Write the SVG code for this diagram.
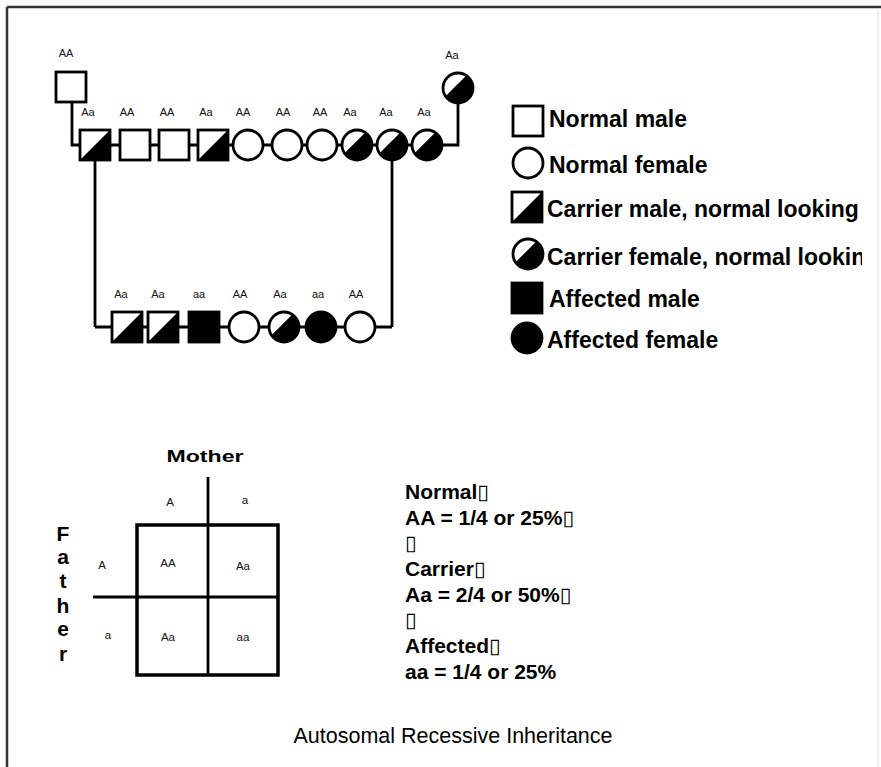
<svg xmlns="http://www.w3.org/2000/svg" xmlns:xlink="http://www.w3.org/1999/xlink" width="881" height="767" viewBox="0 0 881 767">
<style>
.ln{stroke:#000;stroke-width:2.8;fill:none}
.sh{stroke:#000;stroke-width:2.8}
.lbl{font-family:"Liberation Sans",Arial,sans-serif;font-size:11px;fill:#111;text-anchor:middle}
.leg{font-family:"Liberation Sans",Arial,sans-serif;font-size:23px;font-weight:bold;fill:#000}
.pt{font-family:"Liberation Sans",Arial,sans-serif;font-size:11.5px;fill:#111;text-anchor:middle}
.fa{font-family:"Liberation Sans",Arial,sans-serif;font-size:21px;font-weight:bold;fill:#000;text-anchor:middle}
.rt{font-family:"Liberation Sans",Arial,sans-serif;font-size:21px;font-weight:bold;fill:#000}
.bx{font-family:"DejaVu Sans",sans-serif;font-size:21px;font-weight:normal}
.cap{font-family:"Liberation Sans",Arial,sans-serif;font-size:21.5px;fill:#000;text-anchor:middle}
</style>
<defs>
<g id="nm"><rect x="-15" y="-15" width="30" height="30" fill="#fff" class="sh"/></g>
<g id="nf"><circle r="15" fill="#fff" class="sh"/></g>
<g id="cm"><rect x="-15" y="-15" width="30" height="30" fill="#fff"/><polygon points="-15,15 15,-15 15,15" fill="#000"/><rect x="-15" y="-15" width="30" height="30" fill="none" class="sh"/></g>
<g id="cf"><circle r="15" fill="#000"/><path d="M8.3,-12.5 A15,15 0 0 0 -12.5,8.3 Z" fill="#fff"/><circle r="15" fill="none" class="sh"/></g>
<g id="am"><rect x="-15" y="-15" width="30" height="30" fill="#000" class="sh"/></g>
<g id="af"><circle r="15" fill="#000" class="sh"/></g>
<clipPath id="clipL"><rect x="500" y="230" width="362" height="50"/></clipPath>
</defs>
<rect width="881" height="767" fill="#fff"/>
<g id="frame">
<line x1="7" y1="7" x2="881" y2="7" stroke="#333" stroke-width="2.5"/>
<line x1="7" y1="7" x2="7" y2="767" stroke="#333" stroke-width="2.5"/>
<line x1="878" y1="10" x2="878" y2="767" stroke="#ddd" stroke-width="1"/>
</g>
<g id="connectors">
<polyline class="ln" points="72,102 72,145 458,145 458,102"/>
<line class="ln" x1="95" y1="160" x2="95" y2="327"/>
<line class="ln" x1="392" y1="160" x2="392" y2="327"/>
<line class="ln" x1="95" y1="327" x2="392" y2="327"/>
</g>
<g id="gen1">
<g id="p-grandfather"><use xlink:href="#nm" transform="translate(71,87)"/><text class="lbl" x="66" y="57">AA</text></g>
<g id="p-grandmother"><use xlink:href="#cf" transform="translate(458,88)"/><text class="lbl" x="452" y="59">Aa</text></g>
</g>
<g id="gen2">
<g id="g2-1"><use xlink:href="#cm" transform="translate(95,145)"/><text class="lbl" x="88" y="116">Aa</text></g>
<g id="g2-2"><use xlink:href="#nm" transform="translate(135,145)"/><text class="lbl" x="127" y="116">AA</text></g>
<g id="g2-3"><use xlink:href="#nm" transform="translate(174,145)"/><text class="lbl" x="167" y="116">AA</text></g>
<g id="g2-4"><use xlink:href="#cm" transform="translate(213,145)"/><text class="lbl" x="206" y="116">Aa</text></g>
<g id="g2-5"><use xlink:href="#nf" transform="translate(248,145)"/><text class="lbl" x="243" y="116">AA</text></g>
<g id="g2-6"><use xlink:href="#nf" transform="translate(287,145)"/><text class="lbl" x="283" y="116">AA</text></g>
<g id="g2-7"><use xlink:href="#nf" transform="translate(322,145)"/><text class="lbl" x="320" y="116">AA</text></g>
<g id="g2-8"><use xlink:href="#cf" transform="translate(357,145)"/><text class="lbl" x="350" y="116">Aa</text></g>
<g id="g2-9"><use xlink:href="#cf" transform="translate(392,145)"/><text class="lbl" x="386" y="116">Aa</text></g>
<g id="g2-10"><use xlink:href="#cf" transform="translate(427,145)"/><text class="lbl" x="424" y="116">Aa</text></g>
</g>
<g id="gen3">
<g id="g3-1"><use xlink:href="#cm" transform="translate(127,327)"/><text class="lbl" x="121" y="298">Aa</text></g>
<g id="g3-2"><use xlink:href="#cm" transform="translate(163,327)"/><text class="lbl" x="158" y="298">Aa</text></g>
<g id="g3-3"><use xlink:href="#am" transform="translate(204,327)"/><text class="lbl" x="199" y="298">aa</text></g>
<g id="g3-4"><use xlink:href="#nf" transform="translate(244,327)"/><text class="lbl" x="240" y="298">AA</text></g>
<g id="g3-5"><use xlink:href="#cf" transform="translate(284,327)"/><text class="lbl" x="280" y="298">Aa</text></g>
<g id="g3-6"><use xlink:href="#af" transform="translate(321,327)"/><text class="lbl" x="318" y="298">aa</text></g>
<g id="g3-7"><use xlink:href="#nf" transform="translate(360,327)"/><text class="lbl" x="356" y="298">AA</text></g>
</g>
<g id="legend">
<g id="leg-1"><use xlink:href="#nm" transform="translate(528,121)"/><text class="leg" x="549" y="127">Normal male</text></g>
<g id="leg-2"><use xlink:href="#nf" transform="translate(528,163)"/><text class="leg" x="549" y="173">Normal female</text></g>
<g id="leg-3"><use xlink:href="#cm" transform="translate(527,207)"/><text class="leg" x="547" y="217">Carrier male, normal looking</text></g>
<g id="leg-4"><use xlink:href="#cf" transform="translate(528,254)"/><text class="leg" x="547" y="265" clip-path="url(#clipL)">Carrier female, normal looking</text></g>
<g id="leg-5"><use xlink:href="#am" transform="translate(527,298)"/><text class="leg" x="549" y="307">Affected male</text></g>
<g id="leg-6"><use xlink:href="#af" transform="translate(527,338)"/><text class="leg" x="547" y="348">Affected female</text></g>
</g>
<g id="punnett">
<text x="205" y="462" font-family="Liberation Sans, Arial, sans-serif" font-size="17" font-weight="bold" text-anchor="middle" textLength="77" lengthAdjust="spacingAndGlyphs">Mother</text>
<rect x="137" y="525" width="141" height="150" fill="none" stroke="#000" stroke-width="3.5"/>
<line class="ln" x1="208" y1="477" x2="208" y2="675"/>
<line class="ln" x1="93" y1="597" x2="278" y2="597"/>
<text class="pt" x="170" y="506">A</text>
<text class="pt" x="245" y="504">a</text>
<text class="pt" x="102" y="569">A</text>
<text class="pt" x="108" y="639">a</text>
<text class="pt" x="168" y="567">AA</text>
<text class="pt" x="243" y="570">Aa</text>
<text class="pt" x="168" y="641">Aa</text>
<text class="pt" x="243" y="641">aa</text>
<text class="fa" x="63" y="541">F</text>
<text class="fa" x="63" y="564">a</text>
<text class="fa" x="63" y="588">t</text>
<text class="fa" x="63" y="613">h</text>
<text class="fa" x="63" y="636">e</text>
<text class="fa" x="63" y="661">r</text>
</g>
<g id="ratios">
<text class="rt" x="405" y="499">Normal<tspan class="bx">▯</tspan></text>
<text class="rt" x="405" y="525">AA = 1/4 or 25%<tspan class="bx">▯</tspan></text>
<text class="rt" x="405" y="550"><tspan class="bx">▯</tspan></text>
<text class="rt" x="405" y="576">Carrier<tspan class="bx">▯</tspan></text>
<text class="rt" x="405" y="602">Aa = 2/4 or 50%<tspan class="bx">▯</tspan></text>
<text class="rt" x="405" y="627"><tspan class="bx">▯</tspan></text>
<text class="rt" x="405" y="653">Affected<tspan class="bx">▯</tspan></text>
<text class="rt" x="405" y="679">aa = 1/4 or 25%</text>
</g>
<text class="cap" x="453" y="743">Autosomal Recessive Inheritance</text>
</svg>
